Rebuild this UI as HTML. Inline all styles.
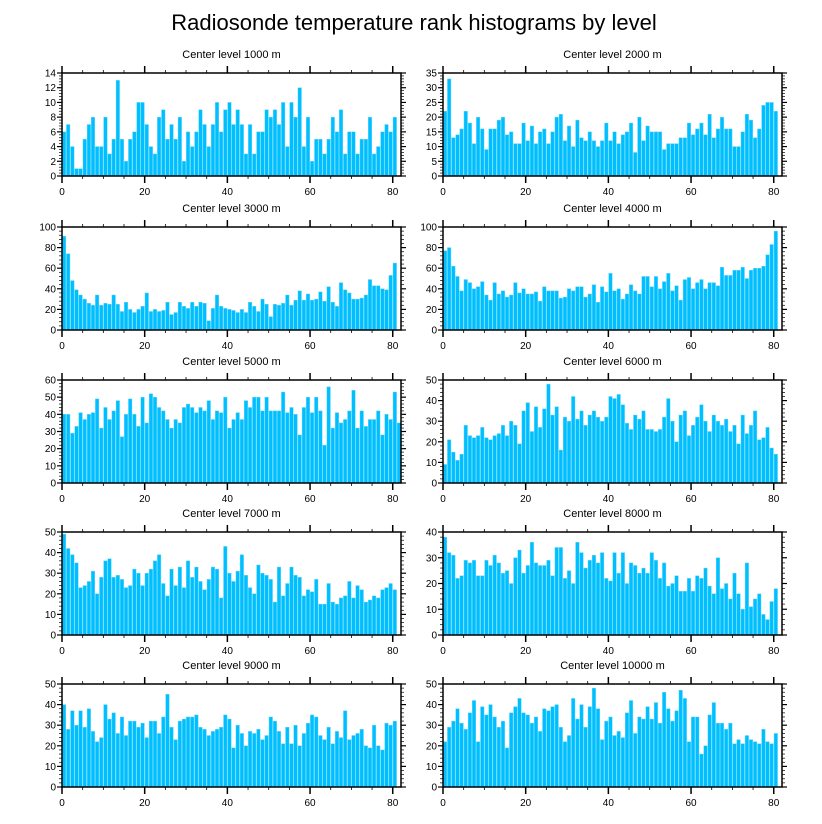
<!DOCTYPE html>
<html><head><meta charset="utf-8"><style>
html,body{margin:0;padding:0;background:#fff;}
svg{display:block;font-family:"Liberation Sans",sans-serif;}
</style></head><body>
<svg id="c" width="822" height="824">
<text x="414" y="30" text-anchor="middle" font-size="22">Radiosonde temperature rank histograms by level</text>
</svg>
<script>
const panelTitles = ["Center level 1000 m","Center level 2000 m","Center level 3000 m","Center level 4000 m","Center level 5000 m","Center level 6000 m","Center level 7000 m","Center level 8000 m","Center level 9000 m","Center level 10000 m"];
const yMaxes = [14,35,100,100,60,50,50,40,50,50];
const ySteps = [2,5,20,20,10,10,10,10,10,10];
const xTicks = [0,20,40,60,80];
const v1000 = [6,7,4,1,1,5,7,8,4,4,8,3,5,13,5,2,5,6,10,10,7,4,3,8,9,5,7,5,8,2,6,4,6,9,7,4,7,10,6,9,10,7,9,7,3,7,3,6,6,9,8,9,7,10,4,10,8,12,4,8,2,5,5,3,5,8,6,9,3,6,6,3,5,5,8,3,4,6,7,6,8];
const v2000 = [22,33,13,14,16,22,18,11,20,16,9,16,16,19,20,14,15,11,11,18,12,17,11,15,16,11,15,20,21,12,17,10,19,13,12,15,12,10,12,18,12,15,11,14,15,18,8,20,12,17,15,15,15,9,11,11,11,13,13,18,14,16,18,14,21,13,16,20,16,16,10,10,15,21,19,13,16,24,25,25,22];
const v3000 = [91,74,48,39,34,30,26,24,34,24,26,25,34,25,18,27,20,17,20,23,36,18,20,18,19,27,15,17,27,23,21,27,23,27,26,9,21,34,23,21,20,19,17,20,17,27,23,18,30,25,13,25,24,26,34,24,29,38,29,35,29,30,37,28,42,27,23,46,39,36,30,30,31,34,49,43,43,40,39,53,65];
const v4000 = [77,80,62,52,38,49,46,40,42,47,34,29,46,35,38,32,34,46,36,40,35,35,37,28,42,38,38,38,31,32,40,38,42,42,32,35,44,27,42,37,55,38,40,30,35,44,38,35,52,52,42,52,40,47,55,38,43,29,49,51,40,46,49,40,46,46,43,61,53,53,58,58,61,50,58,60,60,62,73,83,96];
const v5000 = [40,40,29,33,41,37,40,41,49,32,44,37,42,48,27,40,49,40,33,50,35,52,50,44,42,37,32,37,35,44,46,44,41,44,42,48,37,42,41,50,32,37,41,37,48,44,50,50,42,50,42,42,42,53,41,44,40,28,44,50,41,50,42,22,56,32,41,35,37,42,54,32,42,33,37,37,42,28,40,37,53,35];
const v6000 = [9,21,15,11,14,28,23,22,23,27,22,21,23,24,28,23,30,28,19,35,39,25,37,27,36,48,33,37,16,32,30,42,31,35,28,33,35,32,30,32,42,41,43,38,29,26,33,31,35,26,26,25,26,32,41,30,20,33,35,23,28,32,38,30,25,33,30,28,31,25,28,19,33,24,28,35,21,22,27,17,14];
const v7000 = [49,42,39,35,23,24,26,31,20,28,36,37,28,29,27,23,24,32,30,24,30,32,36,39,25,19,32,24,33,23,36,28,33,26,22,27,33,32,18,43,30,26,31,39,29,23,20,34,30,29,27,16,33,19,25,33,29,28,19,22,21,27,15,15,25,16,15,18,19,26,18,24,22,16,17,19,18,22,23,25,22];
const v8000 = [38,32,31,22,23,29,28,29,23,23,29,27,31,28,24,25,20,30,33,24,27,36,28,27,27,29,23,34,34,22,25,20,36,32,26,29,31,28,32,22,21,32,24,32,20,28,27,24,26,24,32,29,22,28,19,20,23,17,17,22,17,23,22,26,19,16,30,18,20,14,24,16,10,28,11,14,16,8,6,13,18];
const v9000 = [40,28,37,30,37,29,38,27,22,24,40,33,36,26,34,25,32,32,29,31,24,32,32,26,34,45,29,23,32,33,34,34,35,29,28,25,27,28,29,35,33,19,30,26,20,27,26,28,23,25,34,32,27,21,29,21,30,20,26,31,35,34,25,23,29,21,27,24,37,23,25,26,28,20,19,30,20,18,31,30,32];
const v10000 = [22,29,32,38,31,28,36,42,22,39,35,40,34,29,32,19,36,39,43,36,35,31,34,27,38,37,39,40,29,22,25,43,33,40,29,39,48,38,23,32,34,25,27,24,36,42,26,34,33,39,33,41,31,46,38,32,37,47,43,22,34,34,16,20,35,41,31,31,28,31,21,23,21,25,23,22,21,28,22,21,26];
const panelValues = [v1000,v2000,v3000,v4000,v5000,v6000,v7000,v8000,v9000,v10000];

const svg = document.getElementById('c');
const NS = 'http://www.w3.org/2000/svg';
function mk(tag, attrs, parent){const e=document.createElementNS(NS,tag);for(const k in attrs)e.setAttribute(k,attrs[k]);parent.appendChild(e);return e;}
const colLeft=[62,443], plotW=339, rowTop=[73,227,380,532,684], plotH=103, xMax=82;

for(let p=0;p<10;p++){
  const L=colLeft[p%2], T=rowTop[Math.floor(p/2)], B=T+plotH, R=L+plotW;
  const g=mk('g',{},svg);
  
  
  const xs=v=>L+v/xMax*plotW, ys=v=>B-v/yMaxes[p]*plotH;
  const t=mk('text',{x:(L+R)/2,y:T-15,'text-anchor':'middle','font-size':11},g);
  t.textContent=panelTitles[p];
  
  
  const vals=panelValues[p];
  vals.forEach((v,i)=>{
    const x0=xs(i), x1=xs(i+1);
    const r=mk('rect',{x:x0+0.3,y:ys(v),width:Math.max(0.5,x1-x0-0.6),height:B-ys(v),fill:'#00bfff',stroke:'#66d6ff','stroke-width':0.4},g);
    
    
  });
  mk('rect',{x:L,y:T,width:plotW,height:plotH,fill:'none',stroke:'#000','stroke-width':1.5},g);
  for(let v=0;v<=xMax;v+=5){
    const x=xs(v), maj=v%20===0, len=maj?7:3;
    mk('line',{x1:x,y1:B,x2:x,y2:B+len,stroke:'#000','stroke-width':maj?1.5:0.8},g);
    mk('line',{x1:x,y1:T,x2:x,y2:T-len,stroke:'#000','stroke-width':maj?1.5:0.8},g);
  }
  xTicks.forEach(v=>{
    const tx=mk('text',{x:xs(v),y:B+19,'text-anchor':'middle','font-size':10},g);
    tx.textContent=v;
    
    
  });
  const st=ySteps[p], mn=st/5;
  for(let k=0;k*mn<=yMaxes[p]+1e-9;k++){
    const v=k*mn, y=ys(v), maj=k%5===0, len=maj?5:3;
    mk('line',{x1:L,y1:y,x2:L-len,y2:y,stroke:'#000','stroke-width':maj?1.2:0.7},g);
    mk('line',{x1:R,y1:y,x2:R+len,y2:y,stroke:'#000','stroke-width':maj?1.2:0.7},g);
    if(maj){
      const ty=mk('text',{x:L-6,y:y+3.5,'text-anchor':'end','font-size':10},g);
      ty.textContent=v;
      
      
    }
  }
}
</script>
</body></html>
